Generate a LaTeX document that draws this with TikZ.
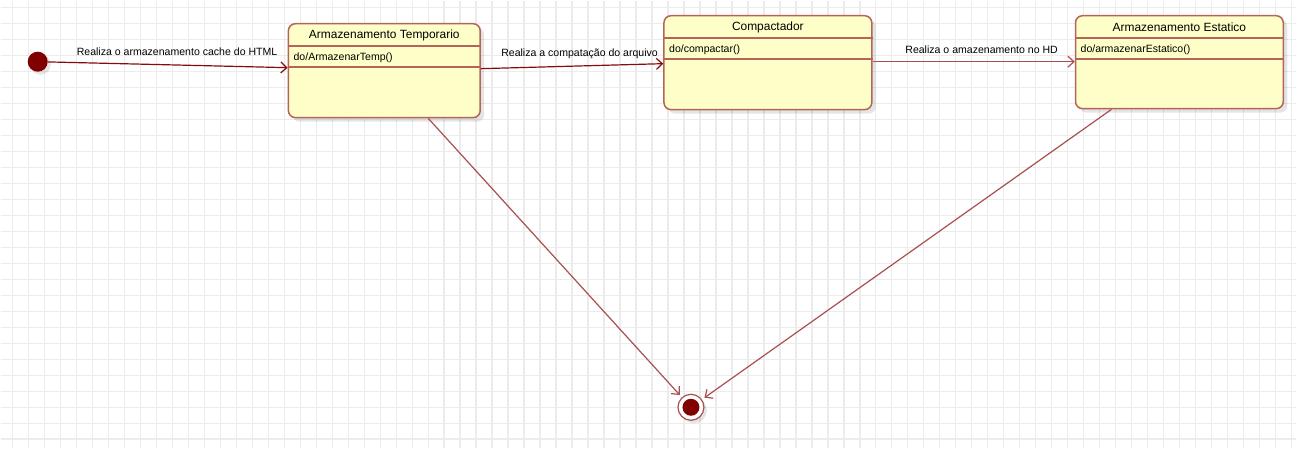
\documentclass[tikz,border=0pt]{standalone}
\usepackage{fontspec}
\setmainfont{Liberation Sans}
\usetikzlibrary{arrows.meta,positioning,calc,shadows}
\definecolor{umlRed}{RGB}{128,0,0}
\definecolor{umlLine}{RGB}{168,80,80}
\definecolor{umlBorder}{RGB}{180,100,88}
\definecolor{umlFill}{RGB}{254,254,200}
\definecolor{gridGray}{RGB}{236,236,236}

\begin{document}
\begin{tikzpicture}[x=1bp,y=-1bp,
    statebox/.style={draw=umlBorder,fill=umlFill,line width=1.5bp,rounded corners=7bp,
      drop shadow={shadow xshift=4bp,shadow yshift=-4bp,fill=black,opacity=0.1}},
    title/.style={font=\fontsize{12}{14}\selectfont,inner sep=0pt},
    body/.style={font=\fontsize{10.6}{12}\selectfont,inner sep=0pt,anchor=west},
    lbl/.style={font=\fontsize{10.6}{12}\selectfont,inner sep=0pt},
    sep/.style={draw=umlBorder,line width=1.5bp},
    arrow/.style={-{Straight Barb[length=6bp,width=11bp]},draw=umlLine,line width=1.2bp}
  ]
  % background grid
  \fill[white] (0,0) rectangle (1297,448);
  \foreach \x in {12,28,...,1297} \draw[gridGray,line width=1.5bp] (\x,0) -- (\x,448);
  \foreach \y in {7,23,...,448} \draw[gridGray,line width=1.5bp] (0,\y) -- (1297,\y);
  \useasboundingbox (0,0) rectangle (1297,448);

  % states
  \node[statebox,minimum width=192bp,minimum height=94bp] (temp) at (384,70) {};
  \node[statebox,minimum width=208bp,minimum height=94bp] (comp) at (768,62) {};
  \node[statebox,minimum width=208bp,minimum height=93bp] (est) at (1180,61.5) {};

  \draw[sep] ($(temp.north west)+(0,23)$) -- ($(temp.north east)+(0,23)$);
  \draw[sep] ($(temp.north west)+(0,44)$) -- ($(temp.north east)+(0,44)$);
  \draw[sep] ($(comp.north west)+(0,23)$) -- ($(comp.north east)+(0,23)$);
  \draw[sep] ($(comp.north west)+(0,44)$) -- ($(comp.north east)+(0,44)$);
  \draw[sep] ($(est.north west)+(0,23)$) -- ($(est.north east)+(0,23)$);
  \draw[sep] ($(est.north west)+(0,44)$) -- ($(est.north east)+(0,44)$);

  \node[title] (tempT) at (384,35) {Armazenamento Temporario};
  \node[body] (tempB) at (293,57) {do/ArmazenarTemp()};
  \node[title] (compT) at (768,27) {Compactador};
  \node[body] (compB) at (669,49) {do/compactar()};
  \node[title] (estT) at (1180,27) {Armazenamento Estatico};
  \node[body] (estB) at (1081,49) {do/armazenarEstatico()};

  % initial and final
  \node[circle,fill=umlRed,minimum size=20bp,inner sep=0pt,
    drop shadow={shadow xshift=3bp,shadow yshift=-3bp,fill=black,opacity=0.1}] (init) at (37,61) {};
  \node[circle,draw=umlLine,fill=white,line width=1.2bp,minimum size=26bp,inner sep=0pt,
    drop shadow={shadow xshift=3bp,shadow yshift=-3bp,fill=black,opacity=0.1}] (final) at (691,407) {};
  \node[circle,fill=umlRed,minimum size=17bp,inner sep=0pt] (finalDot) at (final) {};

  % transitions
  \draw[arrow,draw=umlRed!85!umlLine] (init) -- ([yshift=3bp]temp.west);
  \draw[arrow,draw=umlRed!85!umlLine] ([yshift=2bp]temp.east) -- ([yshift=-1bp]comp.west);
  \draw[arrow] ([yshift=1bp]comp.east) -- ([yshift=0.5bp]est.west);
  \draw[arrow,shorten >=3bp] ([xshift=44bp]temp.south) -- (final);
  \draw[arrow,shorten >=3bp] ([xshift=-68bp]est.south) -- (final);

  \node[lbl] (l1) at (176.5,51) {Realiza o armazenamento cache do HTML};
  \node[lbl] (l2) at (579.5,53) {Realiza a compatação do arquivo};
  \node[lbl] (l3) at (982,49) {Realiza o amazenamento no HD};
\end{tikzpicture}
\end{document}
